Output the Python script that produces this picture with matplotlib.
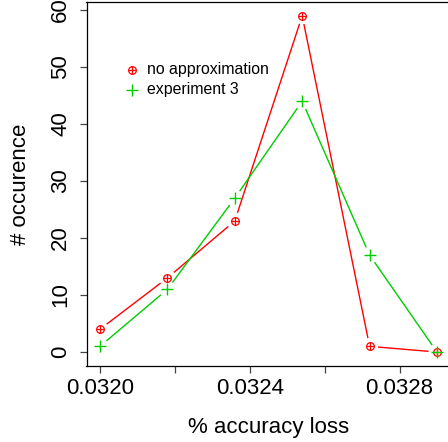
import numpy as np
import matplotlib
matplotlib.use('Agg')
import matplotlib.pyplot as plt

plt.rcParams['font.family'] = ['Liberation Sans', 'DejaVu Sans']

# accuracy loss bins and occurrence counts
acc_loss = [0.0320, 0.03218, 0.03236, 0.03254, 0.03272, 0.0329]
no_approx = [4, 13, 23, 59, 1, 0]
exp3 = [1, 11, 27, 44, 17, 0]
xticks = [0.0320, 0.0322, 0.0324, 0.0326, 0.0328]
xticklabels = ['0.0320', '', '0.0324', '', '0.0328']
yticks = [0, 10, 20, 30, 40, 50, 60]

RED = '#FF0000'
GREEN = '#00CD00'

W, H = 448, 442
fig = plt.figure(figsize=(W / 100, H / 100), dpi=100)
# plot region runs off the right edge
ax = fig.add_axes([86.5 / W, (H - 365.5) / H, 364 / W, 363.2 / H])

xr = max(acc_loss) - min(acc_loss)
ax.set_xlim(min(acc_loss) - 0.04 * xr, max(acc_loss) + 0.04 * xr)
ymax = max(max(no_approx), max(exp3))
ax.set_ylim(-0.04 * ymax, ymax * 1.04)


def gapped_lines(ax, x, y, color, gap=8.5):
    # R-style type="b": segments stop short of each point
    tr = ax.transData
    inv = tr.inverted()
    pts = tr.transform(np.column_stack([x, y]))
    for p0, p1 in zip(pts[:-1], pts[1:]):
        d = p1 - p0
        L = np.hypot(*d)
        if L <= 2 * gap:
            continue
        u = d / L
        a = inv.transform(p0 + u * gap)
        b = inv.transform(p1 - u * gap)
        ax.plot([a[0], b[0]], [a[1], b[1]], color=color, lw=1.0,
                solid_capstyle='butt')


def oplus(ax, x, y, **kw):
    ax.plot(x, y, ls='none', marker='o', ms=5.5, mfc='none', mec=RED, mew=0.9, **kw)
    ax.plot(x, y, ls='none', marker='+', ms=5.5, mec=RED, mew=0.9, **kw)


gapped_lines(ax, acc_loss, no_approx, RED)
gapped_lines(ax, acc_loss, exp3, GREEN)
oplus(ax, acc_loss, no_approx)
ax.plot(acc_loss, exp3, ls='none', marker='+', ms=8, mec=GREEN, mew=1.0)

# legend drawn by hand, no box
oplus(ax, [0.032085], [49.5], clip_on=False)
ax.plot([0.032085], [46.0], ls='none', marker='+', ms=8, mec=GREEN, mew=1.0)
ax.text(0.032125, 49.5, 'no approximation', fontsize=11.4, va='center', ha='left')
ax.text(0.032125, 46.0, 'experiment 3', fontsize=11.4, va='center', ha='left')

ax.set_xticks(xticks)
ax.set_xticklabels(xticklabels, fontsize=16)
ax.set_yticks(yticks)
ax.set_yticklabels([str(v) for v in yticks], fontsize=16, rotation=90, va='center')
ax.tick_params(direction='out', length=5, width=0.9, pad=4, color='#444444')
ax.tick_params(axis='y', pad=6)
for s in ax.spines.values():
    s.set_linewidth(0.9)

ax.set_xlabel('% accuracy loss', fontsize=16, labelpad=13)
ax.set_ylabel('# occurence', fontsize=16, labelpad=14)

fig.savefig('out.png', dpi=100)
